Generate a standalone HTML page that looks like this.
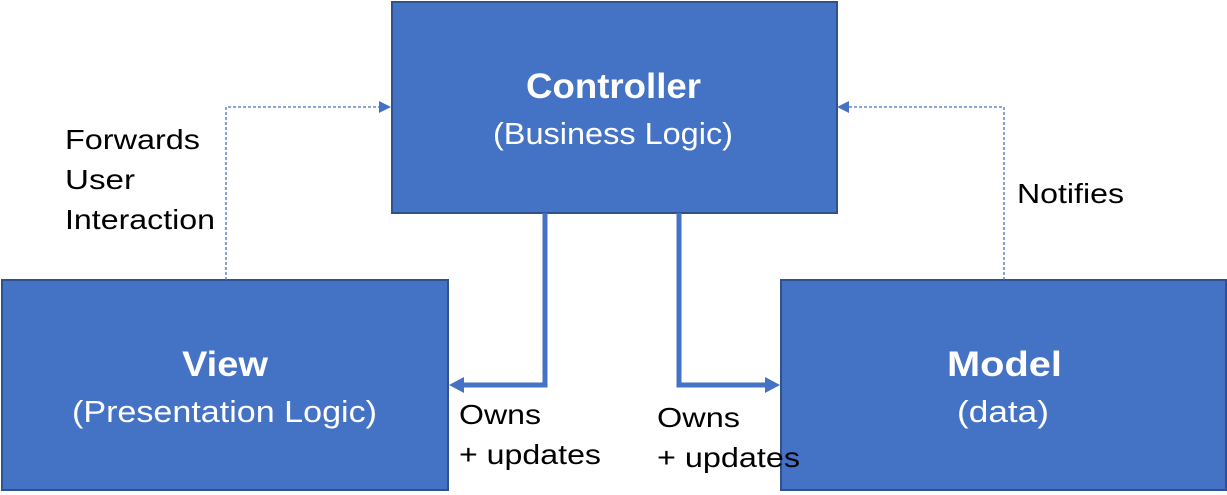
<!DOCTYPE html>
<html><head><meta charset="utf-8"><style>
html,body{margin:0;padding:0;background:#fff;}
svg{display:block}
text{font-family:"Liberation Sans",sans-serif;}
</style></head><body>
<svg width="1227" height="495" viewBox="0 0 1227 495" xmlns="http://www.w3.org/2000/svg">
<rect x="392" y="2" width="445" height="211" fill="#4472C4" stroke="#2F528F" stroke-width="2"/>
<rect x="2" y="280" width="446" height="210" fill="#4472C4" stroke="#2F528F" stroke-width="2"/>
<rect x="781" y="280" width="445" height="210" fill="#4472C4" stroke="#2F528F" stroke-width="2"/>
<g fill="#fff" lengthAdjust="spacingAndGlyphs">
<text x="526" y="98" font-size="35" font-weight="bold" textLength="175" lengthAdjust="spacingAndGlyphs">Controller</text>
<text x="493" y="144" font-size="31" textLength="240" lengthAdjust="spacingAndGlyphs">(Business Logic)</text>
<text x="182" y="376" font-size="35" font-weight="bold" textLength="86" lengthAdjust="spacingAndGlyphs">View</text>
<text x="72" y="422" font-size="31" textLength="305" lengthAdjust="spacingAndGlyphs">(Presentation Logic)</text>
<text x="947" y="376" font-size="35" font-weight="bold" textLength="115" lengthAdjust="spacingAndGlyphs">Model</text>
<text x="957" y="422" font-size="31" textLength="92" lengthAdjust="spacingAndGlyphs">(data)</text>
</g>
<g fill="none" stroke="#4472C4" stroke-width="1.3" stroke-dasharray="3,2">
<polyline points="226,280 226,107 380,107"/>
<polyline points="1004,280 1004,107 848,107"/>
</g>
<polygon points="391,107 379,101 379,113" fill="#4472C4"/>
<polygon points="837,107 849,101 849,113" fill="#4472C4"/>
<g fill="none" stroke="#4472C4" stroke-width="5">
<polyline points="545,213 545,385 462,385"/>
<polyline points="679,213 679,385 766,385"/>
</g>
<polygon points="449,385 464,377 464,393" fill="#4472C4"/>
<polygon points="780,385 765,377 765,393" fill="#4472C4"/>
<g font-size="28" fill="#000">
<text x="65" y="149" textLength="135" lengthAdjust="spacingAndGlyphs">Forwards</text>
<text x="65" y="189" textLength="70" lengthAdjust="spacingAndGlyphs">User</text>
<text x="65" y="229" textLength="150" lengthAdjust="spacingAndGlyphs">Interaction</text>
<text x="1017" y="203" textLength="107" lengthAdjust="spacingAndGlyphs">Notifies</text>
<text x="459" y="424" textLength="82" lengthAdjust="spacingAndGlyphs">Owns</text>
<text x="459" y="464" textLength="142" lengthAdjust="spacingAndGlyphs">+ updates</text>
<text x="657" y="427" textLength="83" lengthAdjust="spacingAndGlyphs">Owns</text>
<text x="657" y="467" textLength="143" lengthAdjust="spacingAndGlyphs">+ updates</text>
</g>
</svg>
</body></html>
